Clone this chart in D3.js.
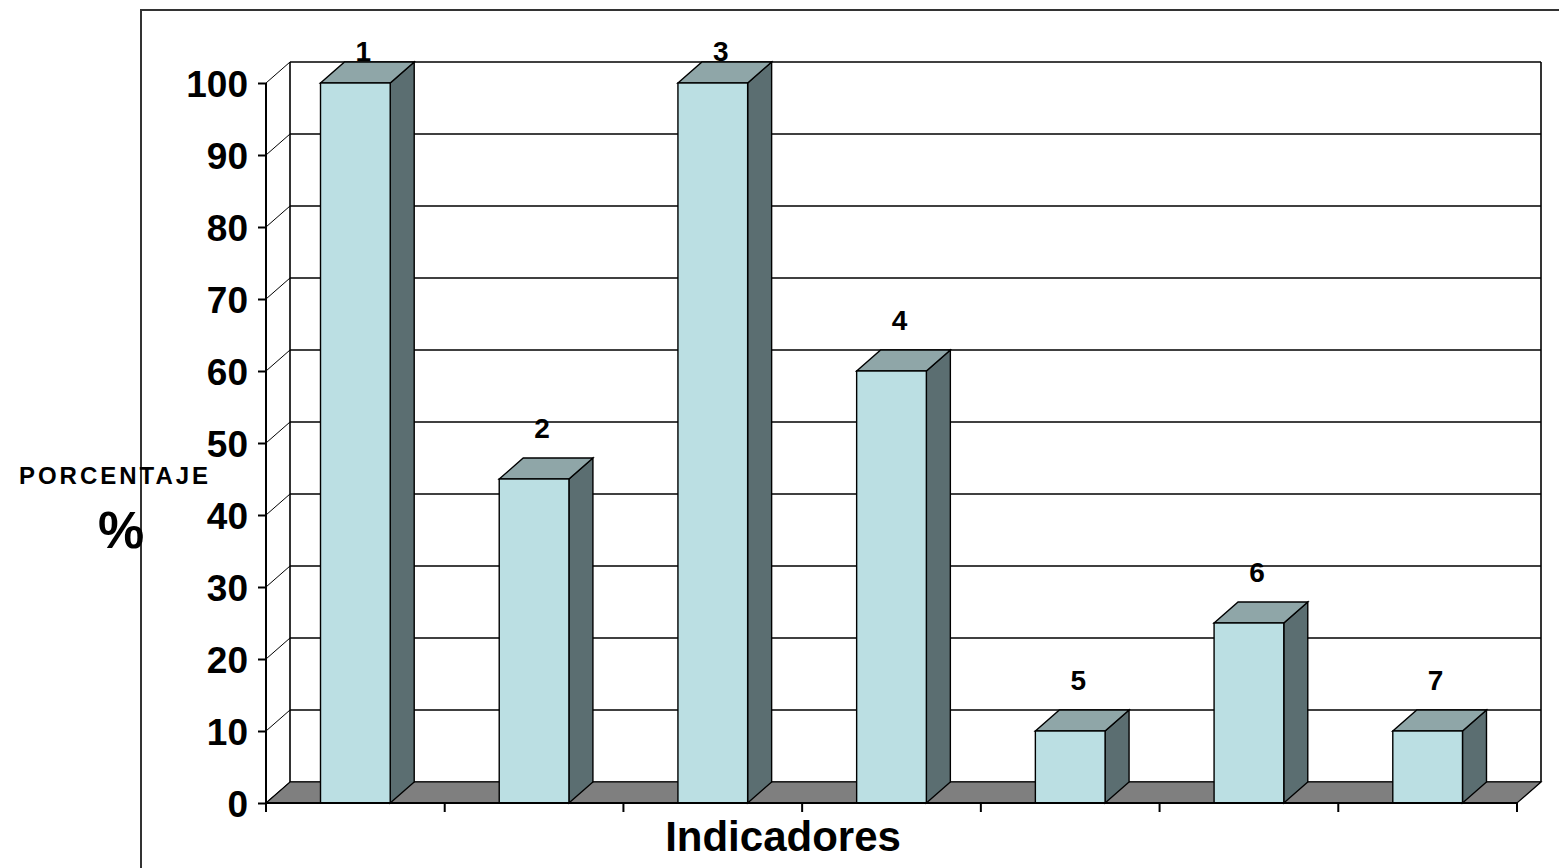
<!DOCTYPE html>
<html>
<head>
<meta charset="utf-8">
<script src="https://cdn.jsdelivr.net/npm/d3@7"></script>
<style>
  body { margin: 0; background: #fff; }
  text { font-family: "Liberation Sans", Arial, sans-serif; font-weight: bold; fill: #000; }
</style>
</head>
<body>
<div class="canvas"></div>
<script>
// data
var categories = ["1", "2", "3", "4", "5", "6", "7"];
var values = [100, 45, 100, 60, 10, 25, 10];
var yTicks = [0, 10, 20, 30, 40, 50, 60, 70, 80, 90, 100];

var svg = d3.select(".canvas")
	.append("svg")
	.attr("width", 1559)
	.attr("height", 868);

// depth of the 3d box
var dx = 24, dy = -21;

var x = d3.scaleBand().domain(categories).range([266, 1517]).padding(0);
var y = d3.scaleLinear().domain([0, 100]).range([803, 83]);
var barW = x.bandwidth() * 0.39;

// outer chart frame
svg.append("rect")
	.attr("x", 141).attr("y", 10)
	.attr("width", 1440).attr("height", 900)
	.attr("fill", "none")
	.attr("stroke", "#333").attr("stroke-width", 2);

var x0 = x.range()[0], x1 = x.range()[1];

// back wall gridlines
svg.selectAll(".grid")
	.data(yTicks)
	.enter().append("line")
	.attr("x1", x0 + dx).attr("x2", x1 + dx)
	.attr("y1", function(d){ return y(d) + dy; })
	.attr("y2", function(d){ return y(d) + dy; })
	.attr("stroke", "#000").attr("stroke-width", 1.6);

// left wall diagonals
svg.selectAll(".diag")
	.data(yTicks)
	.enter().append("line")
	.attr("x1", x0).attr("x2", x0 + dx)
	.attr("y1", function(d){ return y(d); })
	.attr("y2", function(d){ return y(d) + dy; })
	.attr("stroke", "#000").attr("stroke-width", 1);

// back wall sides
svg.append("line")
	.attr("x1", x0 + dx).attr("x2", x0 + dx)
	.attr("y1", y(100) + dy).attr("y2", y(0) + dy)
	.attr("stroke", "#000").attr("stroke-width", 1.6);
svg.append("line")
	.attr("x1", x1 + dx).attr("x2", x1 + dx)
	.attr("y1", y(100) + dy).attr("y2", y(0) + dy)
	.attr("stroke", "#000").attr("stroke-width", 1.6);

// floor
svg.append("polygon")
	.attr("points", [[x0, y(0)], [x1, y(0)], [x1 + dx, y(0) + dy], [x0 + dx, y(0) + dy]].join(" "))
	.attr("fill", "#7f7f7f")
	.attr("stroke", "#000").attr("stroke-width", 1.2);

// bars
var bars = svg.selectAll(".bar")
	.data(values)
	.enter().append("g");

function bx(d, i){ return x(categories[i]) + (x.bandwidth() - barW) / 2; }

bars.append("polygon")
	.attr("points", function(d, i){
		var a = bx(d, i) + barW;
		return [[a, y(d)], [a + dx, y(d) + dy], [a + dx, y(0) + dy], [a, y(0)]].join(" ");
	})
	.attr("fill", "#5b6e71")
	.attr("stroke", "#000").attr("stroke-width", 1.4);

bars.append("polygon")
	.attr("points", function(d, i){
		var a = bx(d, i);
		return [[a, y(d)], [a + dx, y(d) + dy], [a + barW + dx, y(d) + dy], [a + barW, y(d)]].join(" ");
	})
	.attr("fill", "#8fa6a8")
	.attr("stroke", "#000").attr("stroke-width", 1.4);

bars.append("rect")
	.attr("x", function(d, i){ return bx(d, i); })
	.attr("y", function(d){ return y(d); })
	.attr("width", barW)
	.attr("height", function(d){ return y(0) - y(d); })
	.attr("fill", "#bbdfe3")
	.attr("stroke", "#000").attr("stroke-width", 1.4);

// value labels (category numbers)
bars.append("text")
	.attr("x", function(d, i){ return x(categories[i]) + x.bandwidth() / 2 + 8; })
	.attr("y", function(d){ return Math.max(y(d) + dy - 20, 61); })
	.attr("text-anchor", "middle")
	.style("font-size", "28px")
	.text(function(d, i){ return categories[i]; });

// y axis
var yAxis = d3.axisLeft(y).tickValues(yTicks).tickSize(8).tickPadding(10);
var gy = svg.append("g")
	.attr("transform", "translate(" + x0 + ",0)")
	.call(yAxis);
gy.select(".domain").attr("stroke", "#000").attr("stroke-width", 2).attr("d", "M0," + y(100) + "V" + y(0));
gy.selectAll(".tick line").attr("stroke", "#000").attr("stroke-width", 2);
gy.selectAll(".tick text")
	.style("font-size", "37px")
	.style("font-family", "'Liberation Sans', Arial, sans-serif")
	.style("font-weight", "bold")
	.attr("fill", "#000")
	.attr("dy", "0.36em");

// x axis (ticks at category boundaries, no labels)
var xBounds = categories.map(function(c){ return x(c); }).concat([x1]);
svg.append("line")
	.attr("x1", x0).attr("x2", x1)
	.attr("y1", y(0)).attr("y2", y(0))
	.attr("stroke", "#000").attr("stroke-width", 2);
svg.selectAll(".xtick")
	.data(xBounds)
	.enter().append("line")
	.attr("x1", function(d){ return d; }).attr("x2", function(d){ return d; })
	.attr("y1", y(0)).attr("y2", y(0) + 9)
	.attr("stroke", "#000").attr("stroke-width", 2);

// axis titles
svg.append("text")
	.attr("x", 783).attr("y", 851)
	.attr("text-anchor", "middle")
	.style("font-size", "42px")
	.text("Indicadores");

svg.append("text")
	.attr("x", 115).attr("y", 484)
	.attr("text-anchor", "middle")
	.style("font-size", "24px")
	.style("letter-spacing", "3px")
	.text("PORCENTAJE");

svg.append("text")
	.attr("x", 121).attr("y", 548)
	.attr("text-anchor", "middle")
	.style("font-size", "52px")
	.text("%");
</script>
</body>
</html>
